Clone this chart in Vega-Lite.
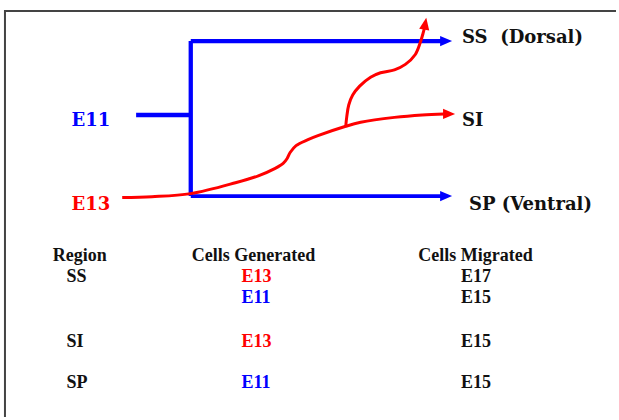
{
  "$schema": "https://vega.github.io/schema/vega-lite/v6.json",
  "width": 619,
  "height": 420,
  "autosize": {"type": "fit", "contains": "padding"},
  "padding": 0,
  "background": "#ffffff",
  "config": {"view": {"stroke": null}},
  "datasets": {
    "frame": [
      {"i": 0, "x": 5, "y": 420},
      {"i": 1, "x": 5, "y": 11},
      {"i": 2, "x": 619, "y": 11}
    ],
    "links": [
      {"seg": "stub", "series": "E11", "i": 0, "x": 137, "y": 116},
      {"seg": "stub", "series": "E11", "i": 1, "x": 192, "y": 116},
      {"seg": "vert", "series": "E11", "i": 0, "x": 192, "y": 41.5},
      {"seg": "vert", "series": "E11", "i": 1, "x": 192, "y": 198},
      {"seg": "top", "series": "E11", "i": 0, "x": 192, "y": 41.5},
      {"seg": "top", "series": "E11", "i": 1, "x": 446, "y": 41.5},
      {"seg": "bottom", "series": "E11", "i": 0, "x": 192, "y": 198},
      {"seg": "bottom", "series": "E11", "i": 1, "x": 446, "y": 198}
    ],
    "curves": [
      {"seg": "main", "series": "E13", "i": 0, "x": 123, "y": 199.5},
      {"seg": "main", "series": "E13", "i": 1, "x": 153, "y": 198.6},
      {"seg": "main", "series": "E13", "i": 2, "x": 192, "y": 195.5},
      {"seg": "main", "series": "E13", "i": 3, "x": 237, "y": 184.5},
      {"seg": "main", "series": "E13", "i": 4, "x": 260, "y": 177.5},
      {"seg": "main", "series": "E13", "i": 5, "x": 277, "y": 170},
      {"seg": "main", "series": "E13", "i": 6, "x": 285, "y": 165},
      {"seg": "main", "series": "E13", "i": 7, "x": 289, "y": 160},
      {"seg": "main", "series": "E13", "i": 8, "x": 292, "y": 154},
      {"seg": "main", "series": "E13", "i": 9, "x": 298, "y": 147},
      {"seg": "main", "series": "E13", "i": 10, "x": 310, "y": 141},
      {"seg": "main", "series": "E13", "i": 11, "x": 320, "y": 137},
      {"seg": "main", "series": "E13", "i": 12, "x": 348, "y": 127.5},
      {"seg": "main", "series": "E13", "i": 13, "x": 363, "y": 123.5},
      {"seg": "main", "series": "E13", "i": 14, "x": 397, "y": 118.5},
      {"seg": "main", "series": "E13", "i": 15, "x": 425, "y": 116},
      {"seg": "main", "series": "E13", "i": 16, "x": 447, "y": 115},
      {"seg": "branch", "series": "E13", "i": 0, "x": 348, "y": 127.5},
      {"seg": "branch", "series": "E13", "i": 1, "x": 349, "y": 118},
      {"seg": "branch", "series": "E13", "i": 2, "x": 351, "y": 106},
      {"seg": "branch", "series": "E13", "i": 3, "x": 355, "y": 96},
      {"seg": "branch", "series": "E13", "i": 4, "x": 362, "y": 87},
      {"seg": "branch", "series": "E13", "i": 5, "x": 373, "y": 78},
      {"seg": "branch", "series": "E13", "i": 6, "x": 383, "y": 73.5},
      {"seg": "branch", "series": "E13", "i": 7, "x": 397, "y": 70.5},
      {"seg": "branch", "series": "E13", "i": 8, "x": 408, "y": 65},
      {"seg": "branch", "series": "E13", "i": 9, "x": 418, "y": 55},
      {"seg": "branch", "series": "E13", "i": 10, "x": 423, "y": 43},
      {"seg": "branch", "series": "E13", "i": 11, "x": 426, "y": 33},
      {"seg": "branch", "series": "E13", "i": 12, "x": 427.5, "y": 27}
    ],
    "rightArrows": [
      {"series": "E11", "x": 449, "y": 41.5},
      {"series": "E11", "x": 449, "y": 198},
      {"series": "E13", "x": 452, "y": 115}
    ],
    "upArrows": [
      {"series": "E13", "x": 428, "y": 24}
    ],
    "diagramLabels": [
      {"series": "E11", "text": "E11", "x": 72, "y": 127},
      {"series": "E13", "text": "E13", "x": 72, "y": 212},
      {"series": "label", "text": "SS\u00a0\u00a0(Dorsal)", "x": 465, "y": 43},
      {"series": "label", "text": "SI", "x": 465, "y": 127},
      {"series": "label", "text": "SP (Ventral)", "x": 472, "y": 212}
    ],
    "table": [
      {"series": "label", "text": "Region", "x": 53, "y": 264},
      {"series": "label", "text": "Cells Generated", "x": 193, "y": 264},
      {"series": "label", "text": "Cells Migrated", "x": 421, "y": 264},
      {"series": "label", "text": "SS", "x": 67, "y": 284.5},
      {"series": "E13", "text": "E13", "x": 243, "y": 284.5},
      {"series": "label", "text": "E17", "x": 464, "y": 285},
      {"series": "E11", "text": "E11", "x": 243, "y": 306},
      {"series": "label", "text": "E15", "x": 464, "y": 306},
      {"series": "label", "text": "SI", "x": 67, "y": 350},
      {"series": "E13", "text": "E13", "x": 243, "y": 350},
      {"series": "label", "text": "E15", "x": 464, "y": 350},
      {"series": "label", "text": "SP", "x": 67, "y": 392},
      {"series": "E11", "text": "E11", "x": 243, "y": 392},
      {"series": "label", "text": "E15", "x": 464, "y": 392}
    ]
  },
  "encoding": {
    "x": {"field": "x", "type": "quantitative", "scale": {"domain": [0, 619], "nice": false, "zero": false}, "axis": null},
    "y": {"field": "y", "type": "quantitative", "scale": {"domain": [0, 420], "nice": false, "zero": false, "reverse": true}, "axis": null}
  },
  "layer": [
    {
      "data": {"name": "frame"},
      "mark": {"type": "line", "color": "#444444", "strokeWidth": 2, "strokeCap": "square"},
      "encoding": {"order": {"field": "i"}}
    },
    {
      "data": {"name": "links"},
      "mark": {"type": "line"},
      "encoding": {
        "detail": {"field": "seg"},
        "order": {"field": "i"},
        "color": {"field": "series", "type": "nominal", "scale": {"domain": ["E11", "E13", "label"], "range": ["#0000FF", "#FF0000", "#111111"]}, "legend": null},
        "strokeWidth": {"field": "seg", "type": "nominal", "scale": {"domain": ["stub", "vert", "top", "bottom", "main", "branch"], "range": [4.5, 3.5, 3, 2.5, 3, 3]}, "legend": null}
      }
    },
    {
      "data": {"name": "curves"},
      "mark": {"type": "line", "interpolate": "catmull-rom", "strokeWidth": 3},
      "encoding": {
        "detail": {"field": "seg"},
        "order": {"field": "i"},
        "color": {"field": "series", "type": "nominal", "scale": {"domain": ["E11", "E13", "label"], "range": ["#0000FF", "#FF0000", "#111111"]}, "legend": null}
      }
    },
    {
      "data": {"name": "rightArrows"},
      "mark": {"type": "point", "shape": "M-1,-0.85L1,0L-1,0.85Z", "filled": true, "opacity": 1, "size": 144},
      "encoding": {
        "color": {"field": "series", "type": "nominal", "scale": {"domain": ["E11", "E13", "label"], "range": ["#0000FF", "#FF0000", "#111111"]}, "legend": null}
      }
    },
    {
      "data": {"name": "upArrows"},
      "mark": {"type": "point", "shape": "M-1,-0.85L1,0L-1,0.85Z", "filled": true, "opacity": 1, "size": 144, "angle": -80},
      "encoding": {
        "color": {"field": "series", "type": "nominal", "scale": {"domain": ["E11", "E13", "label"], "range": ["#0000FF", "#FF0000", "#111111"]}, "legend": null}
      }
    },
    {
      "data": {"name": "diagramLabels"},
      "mark": {"type": "text", "font": "DejaVu Serif", "fontWeight": "bold", "fontSize": 18, "align": "left", "baseline": "alphabetic"},
      "encoding": {
        "text": {"field": "text"},
        "color": {"field": "series", "type": "nominal", "scale": {"domain": ["E11", "E13", "label"], "range": ["#0000FF", "#FF0000", "#111111"]}, "legend": null}
      }
    },
    {
      "data": {"name": "table"},
      "mark": {"type": "text", "font": "Liberation Serif", "fontWeight": "bold", "fontSize": 18, "align": "left", "baseline": "alphabetic"},
      "encoding": {
        "text": {"field": "text"},
        "color": {"field": "series", "type": "nominal", "scale": {"domain": ["E11", "E13", "label"], "range": ["#0000FF", "#FF0000", "#111111"]}, "legend": null}
      }
    }
  ]
}
